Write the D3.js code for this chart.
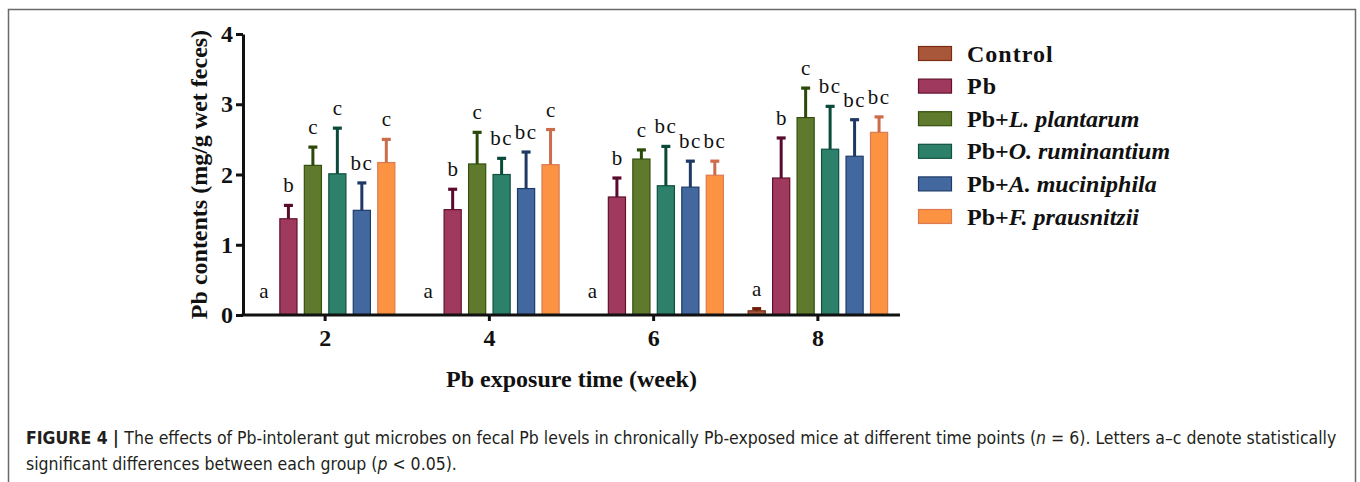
<!DOCTYPE html>
<html>
<head>
<meta charset="utf-8">
<script src="https://cdn.jsdelivr.net/npm/d3@7"></script>
<style>
  html, body { margin: 0; padding: 0; background: #fff; }
  svg { display: block; }
</style>
</head>
<body>
<svg id="chart" width="1360" height="482"></svg>
<script>
// Exposure weeks (x categories) and treatment groups
const weeks = ["2", "4", "6", "8"];
const groups = ["Control", "Pb", "Pb+L. plantarum", "Pb+O. ruminantium", "Pb+A. muciniphila", "Pb+F. prausnitzii"];

// Mean fecal Pb (mg/g wet feces) per week, one array per group
const controlMean = [0, 0, 0, 0.06];
const pbMean      = [1.37, 1.50, 1.68, 1.95];
const lpMean      = [2.13, 2.15, 2.22, 2.81];
const orMean      = [2.01, 2.00, 1.84, 2.36];
const amMean      = [1.49, 1.80, 1.82, 2.26];
const fpMean      = [2.17, 2.14, 1.99, 2.60];

// Standard deviations (upper error bars)
const controlSd = [0, 0, 0, 0.03];
const pbSd      = [0.19, 0.29, 0.27, 0.57];
const lpSd      = [0.26, 0.45, 0.13, 0.42];
const orSd      = [0.65, 0.23, 0.56, 0.61];
const amSd      = [0.39, 0.52, 0.37, 0.52];
const fpSd      = [0.33, 0.50, 0.20, 0.22];

// Significance letters
const controlSig = ["a", "a", "a", "a"];
const pbSig      = ["b", "b", "b", "b"];
const lpSig      = ["c", "c", "c", "c"];
const orSig      = ["c", "bc", "bc", "bc"];
const amSig      = ["bc", "bc", "bc", "bc"];
const fpSig      = ["c", "c", "bc", "bc"];

const yTicks = [0, 1, 2, 3, 4];

// Colours: bar fill, bar outline, error bar
const fills   = ["#A8573B", "#9F3A5E", "#5F7A2C", "#2D806A", "#42689F", "#FB9343"];
const strokes = ["#7A2D12", "#63112F", "#34500F", "#0F5040", "#1F3C68", "#DC7B52"];
const errCols = ["#6E1D08", "#5A0A2D", "#2B4908", "#0A4A39", "#1E3963", "#CC6C4B"];

const meanSets = [controlMean, pbMean, lpMean, orMean, amMean, fpMean];
const sdSets   = [controlSd, pbSd, lpSd, orSd, amSd, fpSd];
const sigSets  = [controlSig, pbSig, lpSig, orSig, amSig, fpSig];

const rows = [];
weeks.forEach((w, wi) => {
  groups.forEach((g, gi) => {
    rows.push({ week: w, group: g, gi, mean: meanSets[gi][wi], sd: sdSets[gi][wi], sig: sigSets[gi][wi] });
  });
});

const svg = d3.select("#chart");
const serif = "'Liberation Serif', Tinos, 'Times New Roman', Times, 'Nimbus Roman', serif";

// Figure frame
svg.append("rect")
  .attr("x", 8.5).attr("y", 9.5)
  .attr("width", 1347).attr("height", 520)
  .attr("fill", "none").attr("stroke", "#6a6a6a").attr("stroke-width", 1.5);

const plot = { left: 243, right: 900, top: 34, bottom: 315 };

const x0 = d3.scaleBand().domain(weeks).range([plot.left, plot.right])
  .paddingInner(0.106).paddingOuter(0.053);
const x1 = d3.scaleBand().domain(groups).range([0, x0.bandwidth()])
  .paddingInner(0.3).paddingOuter(0.15);
const y = d3.scaleLinear().domain([0, 4]).range([plot.bottom, plot.top]);

// Bars
const bars = svg.append("g");
bars.selectAll("rect").data(rows.filter(d => d.mean > 0)).join("rect")
  .attr("x", d => x0(d.week) + x1(d.group))
  .attr("y", d => y(d.mean))
  .attr("width", x1.bandwidth())
  .attr("height", d => y(0) - y(d.mean))
  .attr("fill", d => fills[d.gi])
  .attr("stroke", d => strokes[d.gi])
  .attr("stroke-width", 1.2);

// Upper error bars
const errs = svg.append("g");
rows.filter(d => d.sd > 0).forEach(d => {
  const cx = x0(d.week) + x1(d.group) + x1.bandwidth() / 2;
  errs.append("line")
    .attr("x1", cx).attr("x2", cx)
    .attr("y1", y(d.mean)).attr("y2", y(d.mean + d.sd))
    .attr("stroke", errCols[d.gi]).attr("stroke-width", 3);
  errs.append("line")
    .attr("x1", cx - 4.5).attr("x2", cx + 4.5)
    .attr("y1", y(d.mean + d.sd)).attr("y2", y(d.mean + d.sd))
    .attr("stroke", errCols[d.gi]).attr("stroke-width", 3.2);
});

// Significance letters
svg.append("g").selectAll("text").data(rows).join("text")
  .attr("x", d => x0(d.week) + x1(d.group) + x1.bandwidth() / 2)
  .attr("y", d => Math.min(y(d.mean + d.sd) - 13, y(0) - 17))
  .attr("text-anchor", "middle")
  .attr("font-family", serif)
  .attr("font-size", 21)
  .attr("letter-spacing", d => d.sig.length > 1 ? 1.5 : 0)
  .attr("fill", "#111")
  .text(d => d.sig);

// Axes
const yAxis = svg.append("g")
  .attr("transform", `translate(${plot.left},0)`)
  .call(d3.axisLeft(y).tickValues(yTicks).tickFormat(d3.format("d")).tickSize(7).tickSizeOuter(0).tickPadding(3));
const xAxis = svg.append("g")
  .attr("transform", `translate(0,${plot.bottom})`)
  .call(d3.axisBottom(x0).tickSize(6).tickSizeOuter(0).tickPadding(8));

[yAxis, xAxis].forEach(a => {
  a.select(".domain").attr("stroke", "#111").attr("stroke-width", 3);
  a.selectAll(".tick line").attr("stroke", "#111").attr("stroke-width", 3);
  a.selectAll(".tick text")
    .attr("font-family", serif).attr("font-size", 24).attr("font-weight", "bold").attr("fill", "#111");
});
xAxis.select(".domain").attr("d", `M${plot.left - 1.5},0H${plot.right}`);

// Axis titles
svg.append("text")
  .attr("transform", `translate(207,${(plot.top + plot.bottom) / 2}) rotate(-90)`)
  .attr("text-anchor", "middle")
  .attr("font-family", serif).attr("font-size", 24).attr("font-weight", "bold").attr("fill", "#111")
  .text("Pb contents (mg/g wet feces)");

svg.append("text")
  .attr("x", (plot.left + plot.right) / 2)
  .attr("y", 387)
  .attr("text-anchor", "middle")
  .attr("font-family", serif).attr("font-size", 24).attr("font-weight", "bold").attr("fill", "#111")
  .text("Pb exposure time (week)");

// Legend
const legend = svg.append("g").attr("transform", "translate(918,53.5)");
groups.forEach((g, i) => {
  const row = legend.append("g").attr("transform", `translate(0,${i * 32.6})`);
  row.append("rect")
    .attr("x", 0.5).attr("y", -7).attr("width", 33).attr("height", 14)
    .attr("fill", fills[i]).attr("stroke", strokes[i]).attr("stroke-width", 1.2);
  const t = row.append("text")
    .attr("x", 49).attr("y", 8)
    .attr("font-family", serif).attr("font-size", 24).attr("font-weight", "bold").attr("fill", "#111");
  const plus = g.indexOf("+");
  if (plus < 0) {
    t.attr("letter-spacing", 1).text(g);
  } else {
    t.append("tspan").text(g.slice(0, plus + 1));
    t.append("tspan").attr("font-style", "italic").text(g.slice(plus + 1));
  }
});

// Caption
const cap = svg.append("g")
  .attr("font-family", "'Liberation Sans Narrow', 'DejaVu Sans Condensed', 'Liberation Sans', sans-serif")
  .attr("font-size", 17.5).attr("fill", "#231f20");
const l1 = cap.append("text").attr("x", 26).attr("y", 444);
l1.append("tspan").attr("font-weight", "bold").text("FIGURE 4 | ");
l1.append("tspan").text("The effects of Pb-intolerant gut microbes on fecal Pb levels in chronically Pb-exposed mice at different time points (");
l1.append("tspan").attr("font-style", "italic").text("n");
l1.append("tspan").text(" = 6). Letters a–c denote statistically");
const l2 = cap.append("text").attr("x", 26).attr("y", 470);
l2.append("tspan").text("significant differences between each group (");
l2.append("tspan").attr("font-style", "italic").text("p");
l2.append("tspan").text(" < 0.05).");
</script>
</body>
</html>
